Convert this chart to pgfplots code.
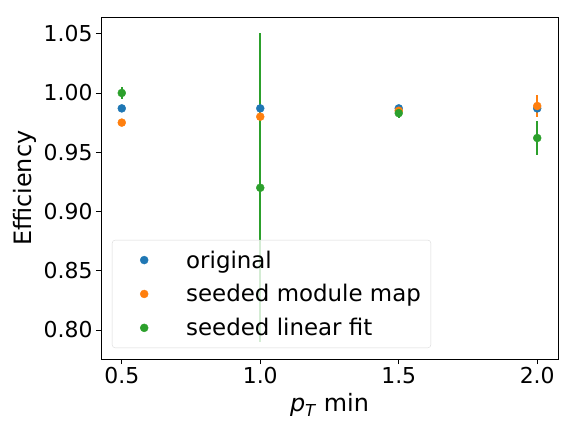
\documentclass[border=0pt]{standalone}
\usepackage{pgfplots}
\pgfplotsset{compat=1.18}
\usepackage{fontspec}
\setmainfont{DejaVu Sans}
\definecolor{tabblue}{HTML}{1F77B4}
\definecolor{taborange}{HTML}{FF7F0E}
\definecolor{tabgreen}{HTML}{2CA02C}
\begin{document}
\begin{tikzpicture}
\path[use as bounding box] (-101bp,-63bp) rectangle (460bp,359bp);
\begin{axis}[
  at={(0,0)}, anchor=south west,
  scale only axis, width=457bp, height=341.5bp,
  xmin=0.425, xmax=2.075, ymin=0.7755, ymax=1.0637,
  xtick={0.5,1.0,1.5,2.0},
  ytick={0.80,0.85,0.90,0.95,1.00,1.05},
  xticklabel style={/pgf/number format/.cd, fixed, fixed zerofill, precision=1},
  yticklabel style={/pgf/number format/.cd, fixed, fixed zerofill, precision=2},
  /pgf/number format/assume math mode=true,
  tick label style={font=\fontsize{22}{26}\selectfont},
  tick align=outside, tick pos=left,
  major tick length=5bp,
  every tick/.style={black, line width=0.8bp},
  axis line style={line width=0.8bp},
  xlabel={\textit{p}\raisebox{-0.22em}{\fontsize{16.5}{18}\selectfont\textit{T}} min},
  ylabel={Efficiency},
  label style={font=\fontsize{24}{28}\selectfont},
  xlabel style={at={(axis description cs:0.5,0)}, anchor=center, yshift=-46bp},
  ylabel style={at={(axis description cs:-0.166,0.5)}, anchor=center},
  legend style={at={(0,0)}, anchor=south west, xshift=11bp, yshift=11bp,
    draw=black!15, rounded corners=3bp, fill=white, fill opacity=0.8, text opacity=1,
    font=\fontsize{23}{27}\selectfont, row sep=11bp, inner xsep=8bp, inner ysep=8.5bp},
  legend cell align=left,
  legend image code/.code={\path[draw=none,fill=none] (-24bp,0bp) -- (40bp,0bp); \draw[#1, fill opacity=1, draw opacity=1, mark options={fill opacity=1}] plot coordinates {(0bp,0bp)};},
]
\addplot[only marks, mark=*, mark size=4bp, tabblue, mark options={draw=none, fill=tabblue}]
  coordinates {(0.5,0.987) (1.0,0.987) (1.5,0.987) (2.0,0.987)};
\addlegendentry{original}
\addplot[only marks, mark=*, mark size=4bp, taborange, mark options={draw=none, fill=taborange},
  error bars/.cd, y dir=both, y explicit, error mark=none, error bar style={line width=1.8bp, taborange}]
  coordinates {(0.5,0.975) +- (0,0.001) (1.0,0.980) +- (0,0.002) (1.5,0.985) +- (0,0.002) (2.0,0.989) +- (0,0.009)};
\addlegendentry{seeded module map}
\addplot[only marks, mark=*, mark size=4bp, tabgreen, mark options={draw=none, fill=tabgreen},
  error bars/.cd, y dir=both, y explicit, error mark=none, error bar style={line width=1.8bp, tabgreen}]
  coordinates {(0.5,1.000) +- (0,0.005) (1.0,0.920) +- (0,0.1305) (1.5,0.983) +- (0,0.004) (2.0,0.962) +- (0,0.014)};
\addlegendentry{seeded linear fit}
\end{axis}
\end{tikzpicture}
\end{document}
